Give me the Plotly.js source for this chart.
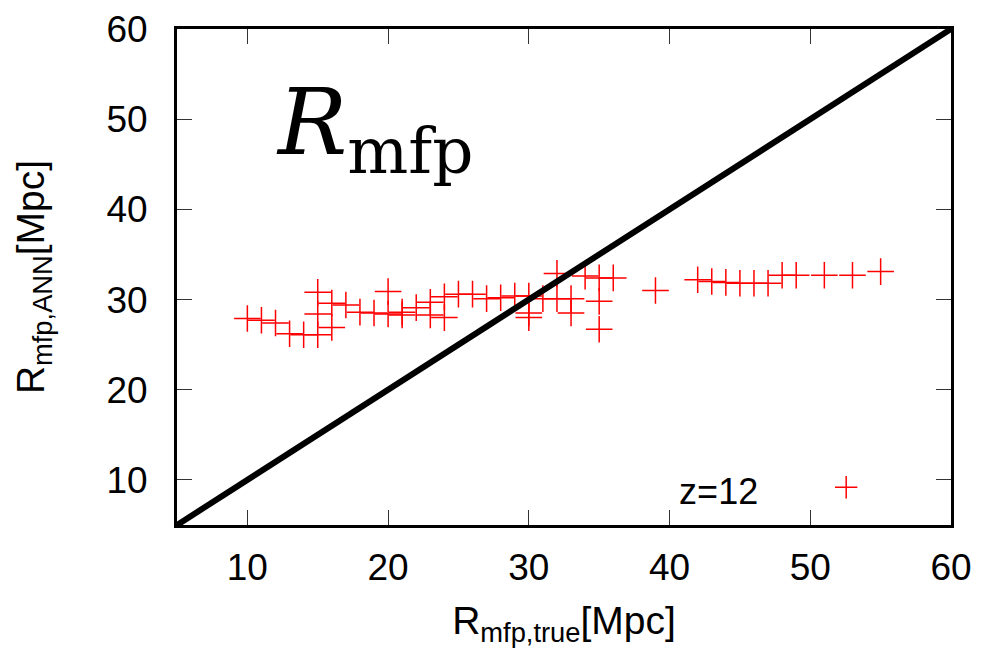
<!DOCTYPE html>
<html>
<head>
<meta charset="utf-8">
<script src="https://cdn.plot.ly/plotly-3.0.1.min.js"></script>
<style>html,body{margin:0;padding:0;background:#fff;}#chart{width:982px;height:650px;}</style>
</head>
<body>
<div id="chart"></div>
<script>
// R_mfp,true [Mpc]
const trueR = [10, 11, 12, 13, 14, 15, 15, 15, 16, 16, 17, 18, 19, 20, 20, 21, 21, 22, 23, 23, 24, 24, 25, 26, 27, 28, 29, 30, 30, 30, 31, 32, 32, 33, 33, 34, 35, 35, 35, 36, 39, 42, 43, 44, 45, 46, 47, 48, 49, 51, 53, 55];
// R_mfp,ANN [Mpc]
const annR = [27.9, 27.7, 27.4, 26.2, 26.1, 30.8, 28.4, 26.1, 29.6, 26.9, 29.4, 28.6, 28.5, 30.9, 28.4, 28.3, 28.6, 29.1, 29.7, 28.3, 28.0, 30.3, 30.6, 30.6, 30.1, 30.2, 30.4, 30.4, 28.5, 28.0, 30.1, 32.9, 30.1, 30.1, 28.5, 32.6, 32.4, 29.8, 26.7, 32.4, 31.0, 32.2, 32.0, 31.9, 31.8, 31.8, 31.8, 32.7, 32.7, 32.7, 32.7, 33.1];
// identity line
const diagX = [5, 60];
const diagY = [5, 60];
const tickVals = [10, 20, 30, 40, 50, 60];
const seriesLabel = 'z=12';

const font = {family: 'Liberation Sans, Arial, sans-serif', color: '#000'};
const nb = '\u00a0';

const traces = [
  {
    x: trueR, y: annR, type: 'scatter', mode: 'markers', name: ' ',
    marker: {symbol: 'cross-thin-open', size: 19, color: 'red', line: {color: 'red', width: 1.5}},
    showlegend: true
  },
  {
    x: diagX, y: diagY, type: 'scatter', mode: 'lines',
    line: {color: '#000', width: 6}, showlegend: false, hoverinfo: 'skip'
  }
];

const axisCommon = {
  showline: true, linecolor: '#000', linewidth: 3, mirror: 'allticks',
  ticks: 'inside', ticklen: 15, tickwidth: 1, tickcolor: '#333',
  showgrid: false, zeroline: false,
  tickvals: tickVals, ticktext: tickVals.map(String),
  tickfont: Object.assign({size: 37}, font),
  range: [5, 60]
};

const layout = {
  width: 982, height: 650,
  margin: {l: 177, r: 31, t: 29, b: 125},
  paper_bgcolor: '#fff', plot_bgcolor: '#fff',
  xaxis: Object.assign({}, axisCommon, {
    ticklabelstandoff: 8,
    title: {text: 'R<sub>mfp,true</sub>[Mpc]', font: Object.assign({size: 39}, font), standoff: 20}
  }),
  yaxis: Object.assign({}, axisCommon, {
    ticklabelstandoff: 19,
    title: {text: 'R<sub>mfp,ANN</sub>[Mpc]', font: Object.assign({size: 39}, font), standoff: 50}
  }),
  showlegend: true,
  legend: {
    x: 0.911, y: 0.076, xanchor: 'right', yanchor: 'middle',
    bgcolor: 'rgba(0,0,0,0)',
    title: {text: seriesLabel + nb.repeat(6), side: 'left', font: Object.assign({size: 36}, font)},
    font: Object.assign({size: 36}, font),
    itemwidth: 30
  },
  annotations: [{
    xref: 'paper', yref: 'paper', x: 0.125, y: 0.80, xanchor: 'left', yanchor: 'middle',
    text: '<i>R</i><sub>mfp</sub>', showarrow: false,
    font: {family: 'DejaVu Serif, Liberation Serif, serif', size: 92, color: '#000'}
  }]
};

Plotly.newPlot('chart', traces, layout, {displayModeBar: false, staticPlot: true});
</script>
</body>
</html>
